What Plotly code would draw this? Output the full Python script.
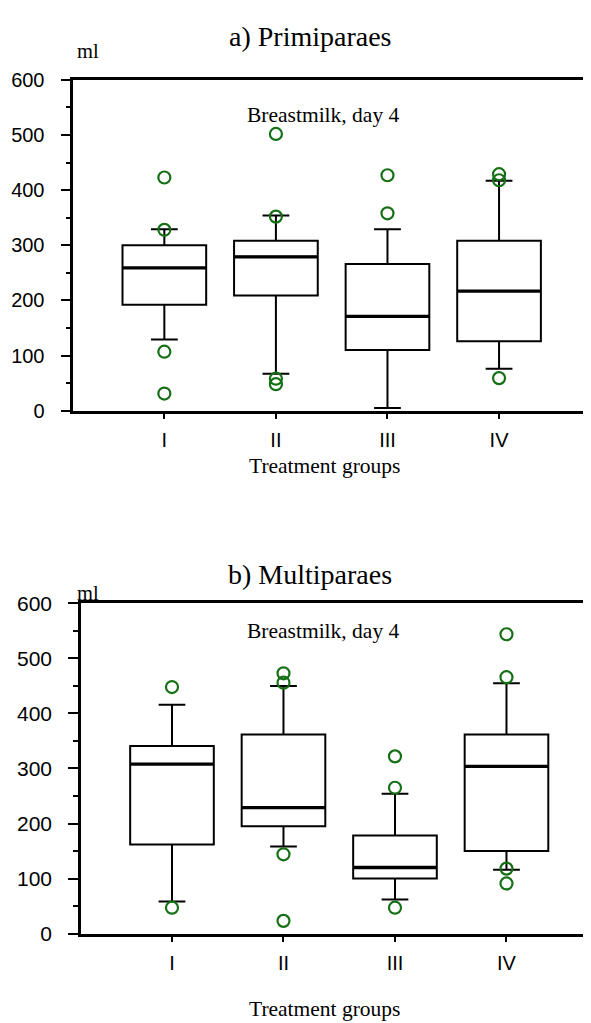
import plotly.graph_objects as go

# ---------------- data ----------------
groups = ["I", "II", "III", "IV"]

# a) Primiparaes
a_q1 = [192, 209, 110, 126]
a_median = [259, 279, 171, 217]
a_q3 = [300, 308, 266, 308]
a_low = [129, 67, 5, 76]
a_high = [329, 354, 329, 417]
a_outliers = [[423, 328, 107, 31], [502, 352, 58, 48], [427, 358], [429, 418, 59]]

# b) Multiparaes
b_q1 = [162, 195, 100, 150]
b_median = [308, 229, 120, 304]
b_q3 = [341, 362, 178, 362]
b_low = [58, 158, 62, 116]
b_high = [416, 450, 254, 455]
b_outliers = [[448, 47], [473, 456, 144, 23], [322, 265, 47], [544, 466, 118, 91]]

yticks = [0, 100, 200, 300, 400, 500, 600]

# ---------------- style ----------------
OFF = 8                      # page body margin
W, H = 591 - OFF, 1023 - OFF
SERIF = "Liberation Serif, Times New Roman, serif"
SANS = "Liberation Sans, Arial, sans-serif"
GREEN = "#157015"
BOXW = 0.75
pos = [1, 2, 3, 4]


def px(X):
    return (X - OFF) / W


def py(Y):
    return 1 - (Y - OFF) / H


fig = go.Figure()


def add_panel(q1, med, q3, lo, hi, outl, xa, ya):
    fig.add_trace(go.Box(
        x=pos, q1=q1, median=med, q3=q3, lowerfence=lo, upperfence=hi,
        width=BOXW, whiskerwidth=0.32, boxpoints=False,
        fillcolor="white", line=dict(color="black", width=2),
        xaxis=xa, yaxis=ya, hoverinfo="skip"))
    # thicker median line
    mx, my = [], []
    for p, m in zip(pos, med):
        mx += [p - BOXW / 2, p + BOXW / 2, None]
        my += [m, m, None]
    fig.add_trace(go.Scatter(x=mx, y=my, mode="lines",
                             line=dict(color="black", width=3.3),
                             xaxis=xa, yaxis=ya, hoverinfo="skip"))
    ox, oy = [], []
    for p, vals in zip(pos, outl):
        ox += [p] * len(vals)
        oy += vals
    fig.add_trace(go.Scatter(x=ox, y=oy, mode="markers",
                             marker=dict(symbol="circle-open", size=12,
                                         color=GREEN, line=dict(width=2.2, color=GREEN)),
                             xaxis=xa, yaxis=ya, hoverinfo="skip"))


add_panel(a_q1, a_median, a_q3, a_low, a_high, a_outliers, "x", "y")
add_panel(b_q1, b_median, b_q3, b_low, b_high, b_outliers, "x2", "y2")


def xax(domain, rng, mirror, anchor):
    return dict(domain=domain, range=rng, showline=True, linewidth=2.6, linecolor="black",
                mirror=mirror, ticks="outside", ticklen=6, tickwidth=2, tickcolor="black",
                tickvals=pos, ticktext=groups, showgrid=False, zeroline=False, anchor=anchor,
                tickfont=dict(family=SANS, size=20, color="black"), ticklabelstandoff=4)


def yax(domain, mirror, anchor, fs):
    return dict(domain=domain, range=[0, 600], showline=True, linewidth=2.6, linecolor="black",
                mirror=mirror, ticks="outside", ticklen=10, tickwidth=2, tickcolor="black",
                tickvals=yticks, showgrid=False, zeroline=False, anchor=anchor,
                minor=dict(dtick=50, ticklen=5, tickwidth=2, ticks="outside",
                           tickcolor="black", showgrid=False),
                tickfont=dict(family=SANS, size=fs, color="black"), ticklabelstandoff=12)


fig.update_layout(
    width=W, height=H, margin=dict(l=0, r=0, t=0, b=0),
    paper_bgcolor="white", plot_bgcolor="white", showlegend=False,
    xaxis=xax([px(73.3), px(588.3)], [0.184, 4.80], True, "y"),
    yaxis=yax([py(407.7), py(69.3)], True, "x", 20),
    xaxis2=xax([px(81), 1.0], [0.184, 4.758], True, "y2"),
    yaxis2=yax([py(942.7), py(605)], False, "x2", 21),
)


def txt(s, x, y, size, family=SERIF):
    fig.add_annotation(text=s, x=px(x), y=py(y), xref="paper", yref="paper",
                       xanchor="center", yanchor="middle", showarrow=False,
                       font=dict(family=family, size=size, color="black"))


txt("a) Primiparaes", 310, 25, 28)
txt("ml", 87.5, 40, 20.5)
txt("Breastmilk, day 4", 323.5, 105.5, 21.5)
txt("Treatment groups", 325, 464, 21.5)

txt("b) Multiparaes", 310, 575, 28)
txt("ml", 87.5, 594, 20.5)
txt("Breastmilk, day 4", 323.8, 633, 21.5)
txt("Treatment groups", 325, 1020, 21.5)

fig.write_html("out.html")
